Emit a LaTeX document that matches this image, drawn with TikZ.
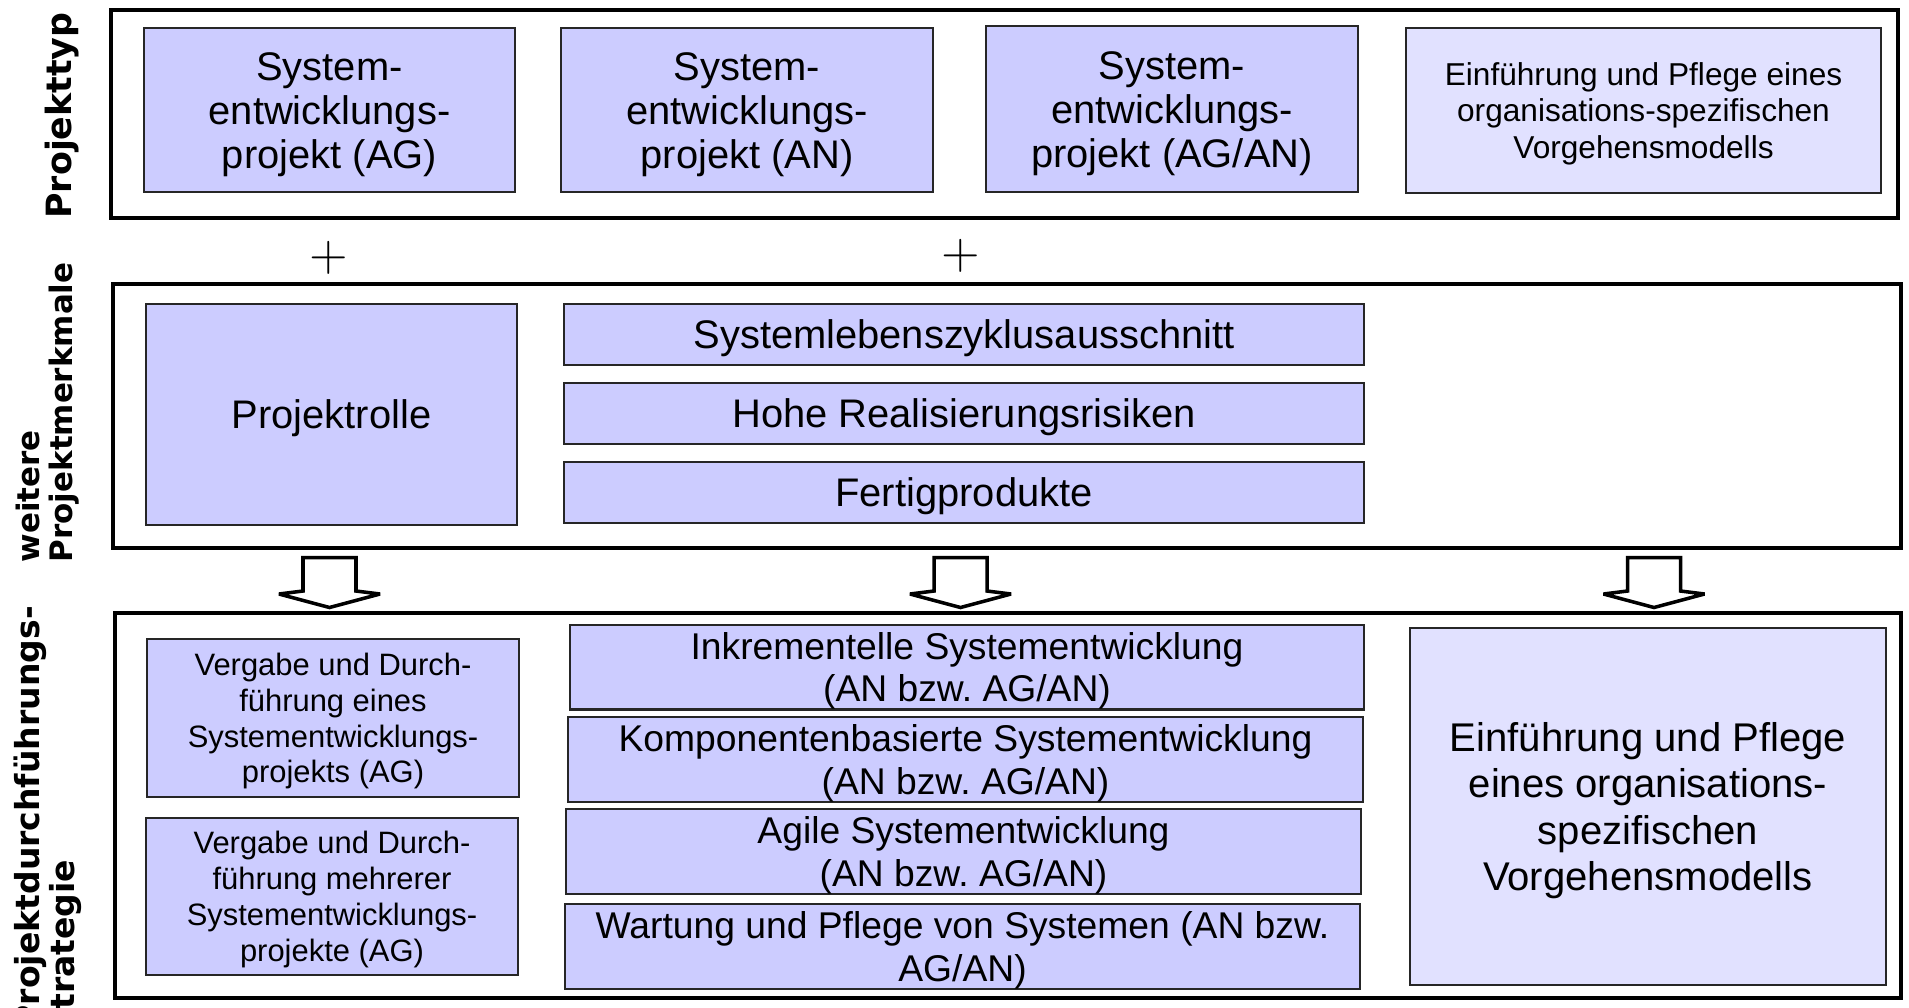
\documentclass[tikz,border=0pt]{standalone}
\usepackage{fontspec}
\setmainfont{Liberation Sans}
\newfontfamily\sidefont{DejaVu Sans}
\usepackage{tikz}
\definecolor{lav}{RGB}{204,204,255}
\definecolor{lavlight}{RGB}{225,225,255}
\frenchspacing

% text sizes (1px of the original = 0.01cm)
\newcommand{\bigtxt}{\fontsize{11.35}{12.6}\selectfont}
\newcommand{\hugetxt}{\fontsize{11.4}{13.1}\selectfont}
\newcommand{\midtxt}{\fontsize{10.6}{12.1}\selectfont}
\newcommand{\smalltxt}{\fontsize{9}{10.4}\selectfont}
\newcommand{\tinytxt}{\fontsize{8.8}{10.2}\selectfont}
% taller first line, so the text sits a little lower in its box
\newcommand{\padtop}{\rule{0pt}{0.93em}}

% hollow block arrow pointing down, #1 = x of its axis
\newcommand{\hollowdown}[1]{%
  \draw[hollow] (#1-0.265,-5.575) -- (#1-0.265,-5.91) -- (#1-0.505,-5.94)
    -- (#1,-6.075) -- (#1+0.505,-5.94) -- (#1+0.265,-5.91) -- (#1+0.265,-5.575) -- cycle;}

\begin{document}
\begin{tikzpicture}[
  frame/.style={draw=black, line width=1.1pt, inner sep=0pt},
  boxsize/.style 2 args={minimum width=#1cm, minimum height=#2cm},
  kind/.style={draw=black!85, line width=0.6pt, fill=lav, align=center,
               inner sep=0pt, font=\bigtxt},
  kindlight/.style={kind, fill=lavlight},
  side/.style={rotate=90, inner sep=0pt, font=\sidefont\bfseries},
  plus/.style={inner sep=0pt, font=\fontsize{14}{14}\selectfont},
  hollow/.style={draw=black, line width=1pt, fill=white, miter limit=2},
]
\useasboundingbox (0,0) rectangle (19.09,-10.07);

% the three layers
\node[frame, boxsize={17.87}{2.08}] (typframe)   at (10.045,-1.14)  {};
\node[frame, boxsize={17.88}{2.64}] (merkframe)  at (10.07,-4.16)   {};
\node[frame, boxsize={17.86}{3.85}] (stratframe) at (10.08,-8.055)  {};

% Projekttyp
\node[kind, boxsize={3.71}{1.64}] (sysAG)   at (3.295,-1.10)  {\padtop System-\\entwicklungs-\\projekt (AG)};
\node[kind, boxsize={3.72}{1.64}] (sysAN)   at (7.47,-1.10)   {\padtop System-\\entwicklungs-\\projekt (AN)};
\node[kind, boxsize={3.72}{1.66}] (sysAGAN) at (11.72,-1.09)  {\padtop System-\\entwicklungs-\\projekt (AG/AN)};
\node[kindlight, boxsize={4.75}{1.65}, font=\smalltxt] (einfTyp) at (16.435,-1.105)
  {\padtop Einführung und Pflege eines\\organisations-spezifischen\\Vorgehensmodells};

\node[plus] (plusA) at (3.29,-2.58) {$+$};
\node[plus] (plusB) at (9.61,-2.56) {$+$};

% weitere Projektmerkmale
\node[kind, boxsize={3.71}{2.21}] (rolle)  at (3.315,-4.145) {\padtop Projektrolle};
\node[kind, boxsize={8.0}{0.61}]  (slz)    at (9.64,-3.345)  {\padtop Systemlebenszyklusausschnitt};
\node[kind, boxsize={8.0}{0.61}]  (risk)   at (9.64,-4.135)  {\padtop Hohe Realisierungsrisiken};
\node[kind, boxsize={8.0}{0.61}]  (fertig) at (9.64,-4.925)  {\padtop Fertigprodukte};

\hollowdown{3.295}
\hollowdown{9.605}
\hollowdown{16.54}

% Projektdurchfuehrungsstrategie
\node[kind, boxsize={3.72}{1.58}, font=\tinytxt] (verg1) at (3.33,-7.18)
  {\padtop Vergabe und Durch-\\führung eines\\Systementwicklungs-\\projekts (AG)};
\node[kind, boxsize={3.72}{1.57}, font=\tinytxt] (verg2) at (3.32,-8.965)
  {\padtop Vergabe und Durch-\\führung mehrerer\\Systementwicklungs-\\projekte (AG)};
\node[kind, boxsize={7.94}{0.82}, font=\midtxt] (inkr) at (9.67,-6.67)
  {\padtop Inkrementelle Systementwicklung\\(AN bzw. AG/AN)};
\node[kind, boxsize={7.95}{0.83}, font=\midtxt] (komp) at (9.655,-7.595)
  {\padtop Komponentenbasierte Systementwicklung\\(AN bzw. AG/AN)};
\node[kind, boxsize={7.95}{0.83}, font=\midtxt] (agil) at (9.635,-8.515)
  {\padtop Agile Systementwicklung\\(AN bzw. AG/AN)};
\node[kind, boxsize={7.95}{0.83}, font=\midtxt] (wart) at (9.625,-9.465)
  {\padtop Wartung und Pflege von Systemen (AN bzw.\\AG/AN)};
\node[kindlight, boxsize={4.76}{3.57}, font=\hugetxt] (einfStrat) at (16.48,-8.065)
  {\padtop Einführung und Pflege\\eines organisations-\\spezifischen\\Vorgehensmodells};

% layer labels
\node[side, font=\sidefont\bfseries\fontsize{9.9}{10}\selectfont] (lblTyp) at (0.625,-1.155) {Projekttyp};
\node[side, align=left, anchor=west, font=\sidefont\bfseries\fontsize{8.8}{9.2}\selectfont]
  (lblMerk) at (0.475,-5.63) {weitere\\Projektmerkmale};
\node[side, align=left, anchor=west, font=\sidefont\bfseries\fontsize{9.4}{10}\selectfont]
  (lblStrat) at (0.475,-10.3) {Projektdurchführungs-\\strategie};

\end{tikzpicture}
\end{document}
